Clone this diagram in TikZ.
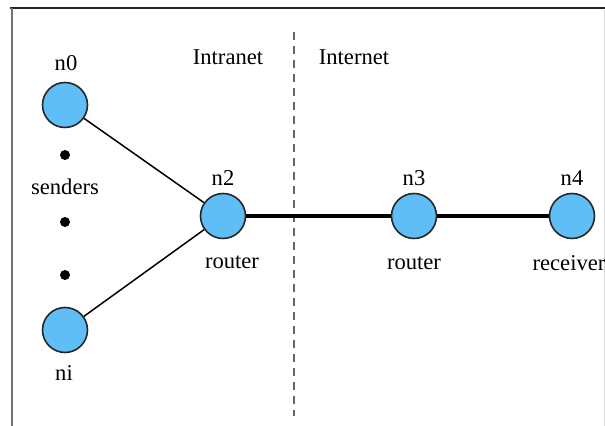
\documentclass[tikz,border=0pt]{standalone}
\usepackage{fontspec}
\setmainfont{Liberation Serif}
\definecolor{nodeblue}{RGB}{95,190,245}
\tikzset{
	host/.style={circle,draw=black!85,line width=0.8pt,fill=nodeblue,minimum size=22.5pt,inner sep=0pt},
	lbl/.style={font=\fontsize{11.3}{13}\selectfont,inner sep=0pt},
	dot/.style={circle,fill=black,minimum size=5pt,inner sep=0pt}
}
\begin{document}
\begin{tikzpicture}[x=0.5pt,y=-0.5pt]
		\useasboundingbox (0,0) rectangle (605,426);
		% frame
		\draw [line width=1.1pt,black!85] (10,8) -- (605,8);
		\draw [line width=0.7pt,black!55] (12,8) -- (12,426);
		\draw [line width=0.4pt,black!15] (604,10) -- (604,426);

		% border between the two networks
		\draw [line width=0.8pt,black!60,dash pattern=on 4pt off 3pt] (294,32) -- (294,416);
		\node [lbl] (intra) at (228,57) {Intranet};
		\node [lbl] (inter) at (354,57) {Internet};

		% hosts
		\node [host] (n0) at (65,105) {};
		\node [host] (ni) at (65,330) {};
		\node [host] (n2) at (223,216) {};
		\node [host] (n3) at (414,216) {};
		\node [host] (n4) at (572,216) {};

		\node [dot] (d1) at (65,155) {};
		\node [dot] (d2) at (65,222) {};
		\node [dot] (d3) at (65,275) {};

		\node [lbl] (n0lbl) at (66,63) {n0};
		\node [lbl] (snd) at (65,187) {senders};
		\node [lbl] (nilbl) at (64,373) {ni};
		\node [lbl] (n2lbl) at (223,178) {n2};
		\node [lbl] (r2) at (232,262) {router};
		\node [lbl] (n3lbl) at (414,178) {n3};
		\node [lbl] (r3) at (414,263) {router};
		\node [lbl] (n4lbl) at (572,178) {n4};
		\node [lbl] (rcv) at (569,263) {receiver};

		% links
		\draw [line width=0.75pt] (n0) -- (n2);
		\draw [line width=0.75pt] (ni) -- (n2);
		\draw [line width=2.2pt] (n2) -- (n3);
		\draw [line width=2.2pt] (n3) -- (n4);
	\end{tikzpicture}
\end{document}
